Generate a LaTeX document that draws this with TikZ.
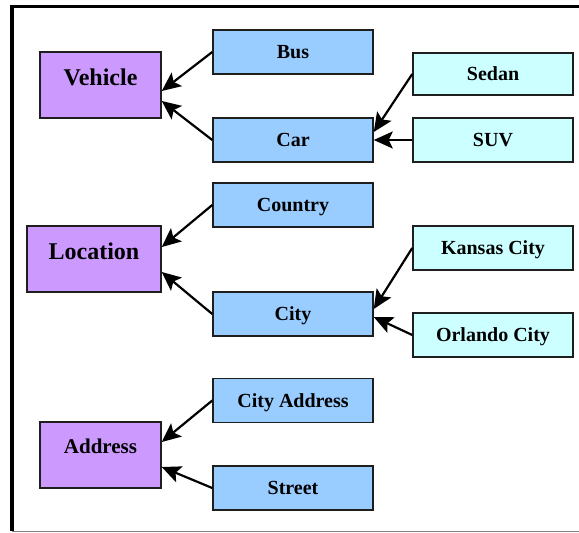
\documentclass[tikz,border=0pt]{standalone}
\usepackage{fontspec}
\setmainfont{Liberation Serif}
\usetikzlibrary{arrows.meta,positioning}
\definecolor{boxpurple}{RGB}{204,153,255}
\definecolor{boxblue}{RGB}{153,204,255}
\definecolor{boxcyan}{RGB}{204,255,255}
\definecolor{edgedark}{RGB}{30,30,30}
\tikzset{
  parentbox/.style={draw=edgedark,line width=1.5pt,fill=boxpurple,minimum width=121pt,minimum height=66pt,
    inner sep=0pt,text height=16pt,text depth=16pt,font=\fontsize{24}{27}\selectfont\bfseries},
  childbox/.style={draw=edgedark,line width=1.5pt,fill=boxblue,minimum width=160pt,minimum height=44pt,
    inner sep=0pt,text height=13.2pt,text depth=0pt,font=\fontsize{20}{23}\selectfont\bfseries},
  leafbox/.style={childbox,fill=boxcyan},
  isa/.style={-{Stealth[length=19pt,width=17pt,inset=4pt]},line width=2.2pt,black}
}
\begin{document}
\begin{tikzpicture}[x={(1pt,0)},y={(0,-1pt)}]
\useasboundingbox (0,0) rectangle (579,533);
\draw[line width=3pt] (10,6.5) -- (579,6.5);
\draw[line width=4pt] (12,5) -- (12,531);
\draw[gray,line width=1.5pt] (12,531.5) -- (579,531.5);

\node[parentbox] (vehicle) at (100.5,85) {Vehicle};
\node[parentbox,minimum width=134pt] (location) at (94,259) {Location};
\node[parentbox,text height=14pt,text depth=18pt,font=\fontsize{21}{24}\selectfont\bfseries] (address) at (100.5,455) {Address};

\node[childbox] (bus) at (293,52) {Bus};
\node[childbox] (car) at (293,140) {Car};
\node[childbox] (country) at (293,205) {Country};
\node[childbox] (city) at (293,314) {City};
\node[childbox] (cityaddr) at (293,400.5) {City Address};
\node[childbox] (street) at (293,488) {Street};

\node[leafbox,minimum height=42pt] (sedan) at (493,74) {Sedan};
\node[leafbox] (suv) at (493,140) {SUV};
\node[leafbox] (kansas) at (493,248) {Kansas City};
\node[leafbox] (orlando) at (493,335) {Orlando City};

\draw[isa] (bus.west) -- ([yshift=-6pt]vehicle.east);
\draw[isa] (car.west) -- ([yshift=-16pt]vehicle.east);
\draw[isa] (country.west) -- ([yshift=12pt]location.east);
\draw[isa] (city.west) -- ([yshift=-13pt]location.east);
\draw[isa] (cityaddr.west) -- ([yshift=13pt]address.east);
\draw[isa] (street.west) -- ([yshift=-12pt]address.east);
\draw[isa] (sedan.west) -- ([yshift=8pt]car.east);
\draw[isa] (suv.west) -- (car.east);
\draw[isa] (kansas.west) -- ([yshift=5pt]city.east);
\draw[isa] (orlando.west) -- ([yshift=-3pt]city.east);
\end{tikzpicture}
\end{document}
